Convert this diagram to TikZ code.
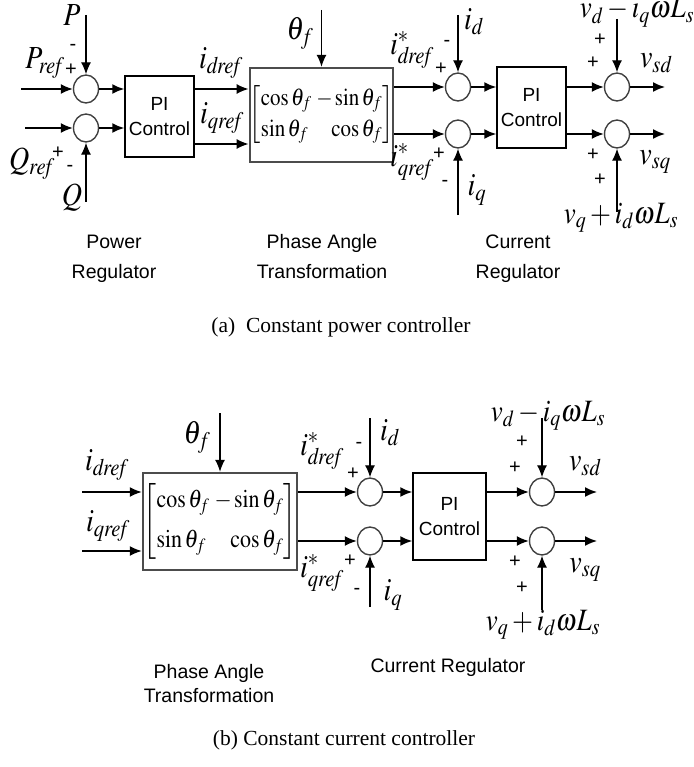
\documentclass[tikz,border=0pt]{standalone}
\usepackage{graphicx}
\usepackage{mathptmx}
\usepackage{fontspec}
\setmainfont{Liberation Serif}
\setsansfont{Liberation Sans}
\usetikzlibrary{arrows.meta,shapes.geometric}

% rotation matrix of the phase angle block, row gap as argument
\newcommand{\rotmat}[1]{\scalebox{1}[1.15]{$\left[\begin{array}{@{}l@{\;}r@{}}
  \cos\theta_f & -\sin\theta_f\\[#1]
  \sin\theta_f & \cos\theta_f
\end{array}\right]$}}
% signal label, a little taller than wide as in the drawing
\newcommand{\sig}[1]{\scalebox{1}[1.15]{$#1$}}

\begin{document}
\begin{tikzpicture}[x=1pt, y=-1pt, >={Latex[length=12pt,width=10pt]}, line width=1.6pt,
  sumnode/.style={draw=black!75, ellipse, line width=1.4pt, minimum width=25pt, minimum height=28pt, inner sep=0pt},
  pibox/.style={draw, rectangle, line width=1.5pt, align=center, inner sep=0pt, font=\fontsize{19}{25}\selectfont\sffamily},
  trbox/.style={draw=black!70, rectangle, line width=2.4pt, inner sep=0pt, font=\fontsize{21}{25}\selectfont},
  lab/.style={inner sep=0pt, font=\fontsize{28}{32}\selectfont},
  longlab/.style={inner sep=0pt, anchor=base, font=\fontsize{27}{30}\selectfont},
  sgn/.style={inner sep=0pt, font=\fontsize{20}{22}\selectfont\sffamily},
  txt/.style={align=center, inner sep=0pt, font=\fontsize{19.5}{30}\selectfont\sffamily},
  capt/.style={inner sep=0pt, font=\fontsize{21.5}{24}\selectfont},
  fine/.style={line width=1.2pt}]
\useasboundingbox (0,0) rectangle (693,767);

% (a) constant power controller
\node[sumnode] (sP) at (86,89) {};
\node[sumnode] (sQ) at (86,128) {};
\node[pibox, minimum width=69pt, minimum height=81pt] (pi1) at (159.5,116.5) {PI\\Control};
\node[trbox, minimum width=141pt, minimum height=94pt] (tr1) at (321.5,115) {\rotmat{2pt}};
\node[sumnode] (sd1) at (458,87) {};
\node[sumnode] (sq1) at (458,134) {};
\node[pibox, minimum width=69pt, minimum height=81pt] (pi2) at (531.5,107.5) {PI\\Control};
\node[sumnode] (so1) at (617,87) {};
\node[sumnode] (so2) at (617,134) {};

\coordinate (inP) at (21,89);
\coordinate (inQ) at (25,128);
\coordinate (fbP) at (86,15);
\coordinate (fbQ) at (86,202);
\coordinate (th1) at (321.5,10);
\coordinate (id1) at (458,15);
\coordinate (iq1) at (458,215);
\coordinate (ff1) at (617,19);
\coordinate (ff2) at (617,212);
\coordinate (vsd1) at (665,87);
\coordinate (vsq1) at (665,134);

\draw[->] (inP) -- (sP);
\draw[->] (inQ) -- (sQ);
\draw[->, fine] (fbP) -- (sP);
\draw[->, fine] (fbQ) -- (sQ);
\draw[->] (sP) -- (sP -| pi1.west);
\draw[->] (sQ) -- (sQ -| pi1.west);
\draw[->] (pi1.east |- 0,89) -- (tr1.west |- 0,89);
\draw[->] (pi1.east |- 0,144) -- (tr1.west |- 0,144);
\draw[->, fine] (th1) -- (tr1.north);
\draw[->] (tr1.east |- sd1) -- (sd1);
\draw[->] (tr1.east |- sq1) -- (sq1);
\draw[->, fine] (id1) -- (sd1);
\draw[->, fine] (iq1) -- (sq1);
\draw[->] (sd1) -- (sd1 -| pi2.west);
\draw[->] (sq1) -- (sq1 -| pi2.west);
\draw[->] (pi2.east |- so1) -- (so1);
\draw[->] (pi2.east |- so2) -- (so2);
\draw[->, fine] (ff1) -- (so1);
\draw[->, fine] (ff2) -- (so2);
\draw[->] (so1) -- (vsd1);
\draw[->] (so2) -- (vsq1);

\node[lab] (lP) at (72,15) {\sig{P}};
\node[sgn] (mP) at (73,47) {-};
\node[lab] (lPr) at (45,63) {\sig{P_{\mathit{ref}}}};
\node[sgn] (pP) at (71,70) {+};
\node[lab] (lQr) at (32,164) {\sig{Q_{\mathit{ref}}}};
\node[sgn] (pQ) at (58,153) {+};
\node[sgn] (mQ) at (70,168) {-};
\node[lab] (lQ) at (72,198) {\sig{Q}};
\node[lab] (lidr1) at (221,63) {\sig{i_{\mathit{dref}}}};
\node[lab] (liqr1) at (222,118) {\sig{i_{\mathit{qref}}}};
\node[lab] (lth1) at (300,33) {\sig{\theta_f}};
\node[lab] (lids1) at (412,50) {\sig{i^*_{\mathit{dref}}}};
\node[sgn] (pid1) at (441,69) {+};
\node[lab] (lid1) at (474,22) {\sig{i_d}};
\node[sgn] (mid1) at (447,43) {-};
\node[lab] (liqs1) at (412,162) {\sig{i^*_{\mathit{qref}}}};
\node[sgn] (piq1) at (439,154) {+};
\node[sgn] (miq1) at (445,183) {-};
\node[lab] (liq1) at (477,190) {\sig{i_q}};
\node[longlab] (lvd1) at (637,18) {\sig{v_d-i_q\omega L_s}};
\node[sgn] (pvd1) at (600,40) {+};
\node[sgn] (pvd2) at (593,63) {+};
\node[lab] (lvsd1) at (656,63) {\sig{v_{\mathit{sd}}}};
\node[lab] (lvsq1) at (655,162) {\sig{v_{\mathit{sq}}}};
\node[sgn] (pvq1) at (593,155) {+};
\node[sgn] (pvq2) at (600,180) {+};
\node[longlab] (lvq1) at (621,223) {\sig{v_q+i_d\omega L_s}};

\node[txt] (tpr) at (114,259) {Power\\Regulator};
\node[txt] (tpa1) at (322,257) {Phase Angle\\Transformation};
\node[txt] (tcr1) at (518,259) {Current\\Regulator};
\node[capt] (capa) at (341,327) {(a)~~Constant power controller};

% (b) constant current controller
\node[trbox, minimum width=154pt, minimum height=97pt, font=\fontsize{22}{26}\selectfont] (tr2) at (220,521.5) {\rotmat{9pt}};
\node[sumnode] (sd2) at (370,492) {};
\node[sumnode] (sq2) at (370,541) {};
\node[pibox, minimum width=73pt, minimum height=87pt] (pi3) at (449.5,516.5) {PI\\Control};
\node[sumnode] (so3) at (542,492) {};
\node[sumnode] (so4) at (542,541) {};

\coordinate (in3) at (82,492);
\coordinate (in4) at (82,551);
\coordinate (th2) at (220,413);
\coordinate (id2) at (370,418);
\coordinate (iq2) at (370,607);
\coordinate (ff3) at (542,418);
\coordinate (ff4) at (542,610);
\coordinate (vsd2) at (597,492);
\coordinate (vsq2) at (597,541);

\draw[->] (in3) -- (tr2.west |- in3);
\draw[->] (in4) -- (tr2.west |- in4);
\draw[->, fine] (th2) -- (tr2.north);
\draw[->] (tr2.east |- sd2) -- (sd2);
\draw[->] (tr2.east |- sq2) -- (sq2);
\draw[->, fine] (id2) -- (sd2);
\draw[->, fine] (iq2) -- (sq2);
\draw[->] (sd2) -- (sd2 -| pi3.west);
\draw[->] (sq2) -- (sq2 -| pi3.west);
\draw[->] (pi3.east |- so3) -- (so3);
\draw[->] (pi3.east |- so4) -- (so4);
\draw[->, fine] (ff3) -- (so3);
\draw[->, fine] (ff4) -- (so4);
\draw[->] (so3) -- (vsd2);
\draw[->] (so4) -- (vsq2);

\node[lab] (lidr2) at (107,465) {\sig{i_{\mathit{dref}}}};
\node[lab] (liqr2) at (108,526) {\sig{i_{\mathit{qref}}}};
\node[lab] (lth2) at (197,437) {\sig{\theta_f}};
\node[lab] (lids2) at (322,451) {\sig{i^*_{\mathit{dref}}}};
\node[sgn] (pid2) at (353,474) {+};
\node[lab] (lid2) at (390,433) {\sig{i_d}};
\node[sgn] (mid2) at (359,445) {-};
\node[lab] (liqs2) at (322,573) {\sig{i^*_{\mathit{qref}}}};
\node[sgn] (piq2) at (350,561) {+};
\node[sgn] (miq2) at (357,591) {-};
\node[lab] (liq2) at (393,595) {\sig{i_q}};
\node[longlab] (lvd2) at (548,421) {\sig{v_d-i_q\omega L_s}};
\node[sgn] (pvd3) at (522,442) {+};
\node[sgn] (pvd4) at (515,468) {+};
\node[lab] (lvsd2) at (585,466) {\sig{v_{\mathit{sd}}}};
\node[lab] (lvsq2) at (585,570) {\sig{v_{\mathit{sq}}}};
\node[sgn] (pvq3) at (515,562) {+};
\node[sgn] (pvq4) at (522,588) {+};
\node[longlab] (lvq2) at (543,630) {\sig{v_q+i_d\omega L_s}};

\node[txt, font=\fontsize{19.5}{24}\selectfont\sffamily] (tpa2) at (209,684) {Phase Angle\\Transformation};
\node[txt] (tcr2) at (448,667) {Current Regulator};
\node[capt] (capb) at (344,740) {(b) Constant current controller};
\end{tikzpicture}
\end{document}
